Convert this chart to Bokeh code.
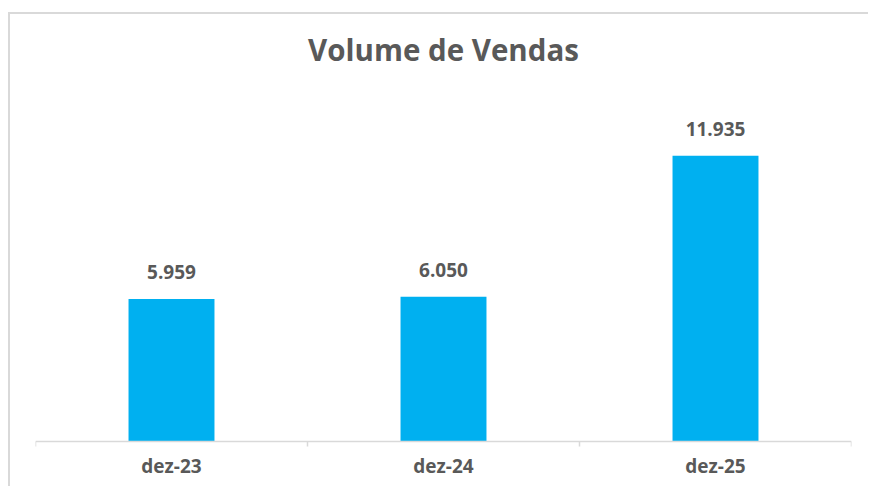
from bokeh.plotting import figure
from bokeh.models import ColumnDataSource, FactorRange, Range1d, LabelSet, Span
from bokeh.core.properties import value
from bokeh.embed import file_html
from bokeh.resources import INLINE

# ---- data ----
categories = ["dez-23", "dez-24", "dez-25"]
volumes = [5959, 6050, 11935]
value_labels = [f"{v:,}".replace(",", ".") for v in volumes]

TEXT = "#595959"
BAR = "#00B0F0"
LINE = "#D9D9D9"
FONT = "Open Sans"

src = ColumnDataSource(dict(cat=categories, vol=volumes, lbl=value_labels))

p = figure(
    width=860, height=474,
    x_range=FactorRange(*categories, range_padding=0),
    y_range=Range1d(-249, 15000),
    y_axis_location=None,
    output_backend="svg", toolbar_location=None,
    min_border_left=25, min_border_right=19,
    min_border_top=66, min_border_bottom=41,
    title="Volume de Vendas",
)
p.styles = {"border-top": "2px solid #D9D9D9", "border-left": "2px solid #D9D9D9",
            "margin-top": "12px", "margin-left": "8px"}

p.title.align = "center"
p.title.text_font = FONT
p.title.text_font_size = "29.5px"
p.title.text_font_style = "bold"
p.title.text_color = TEXT
p.title.standoff = 25

p.outline_line_color = None
p.xgrid.grid_line_color = None
p.ygrid.grid_line_color = None
p.background_fill_color = "white"
p.border_fill_color = "white"

p.vbar(x="cat", top="vol", width=0.316, source=src, color=BAR, line_color=None)

labels = LabelSet(x="cat", y="vol", text="lbl", source=src,
                  text_align="center", text_baseline="alphabetic", y_offset=20,
                  text_font=value(FONT), text_font_size="19px", text_font_style="bold",
                  text_color=TEXT)
p.add_layout(labels)

# baseline axis line and ticks at category boundaries
p.add_layout(Span(location=0, dimension="width", line_color=LINE, line_width=1.5))
bx = [(c, -0.5) for c in categories] + [(categories[-1], 0.5)]
p.segment(x0=bx, x1=bx, y0=[0] * len(bx), y1=[-210] * len(bx),
          line_color=LINE, line_width=1.5)

ax = p.xaxis[0]
ax.axis_line_color = None
ax.major_tick_line_color = None
ax.minor_tick_line_color = None
ax.major_label_text_font = FONT
ax.major_label_text_font_size = "19px"
ax.major_label_text_font_style = "bold"
ax.major_label_text_color = TEXT
ax.major_label_standoff = -1

open("out.html", "w").write(file_html(p, INLINE))
